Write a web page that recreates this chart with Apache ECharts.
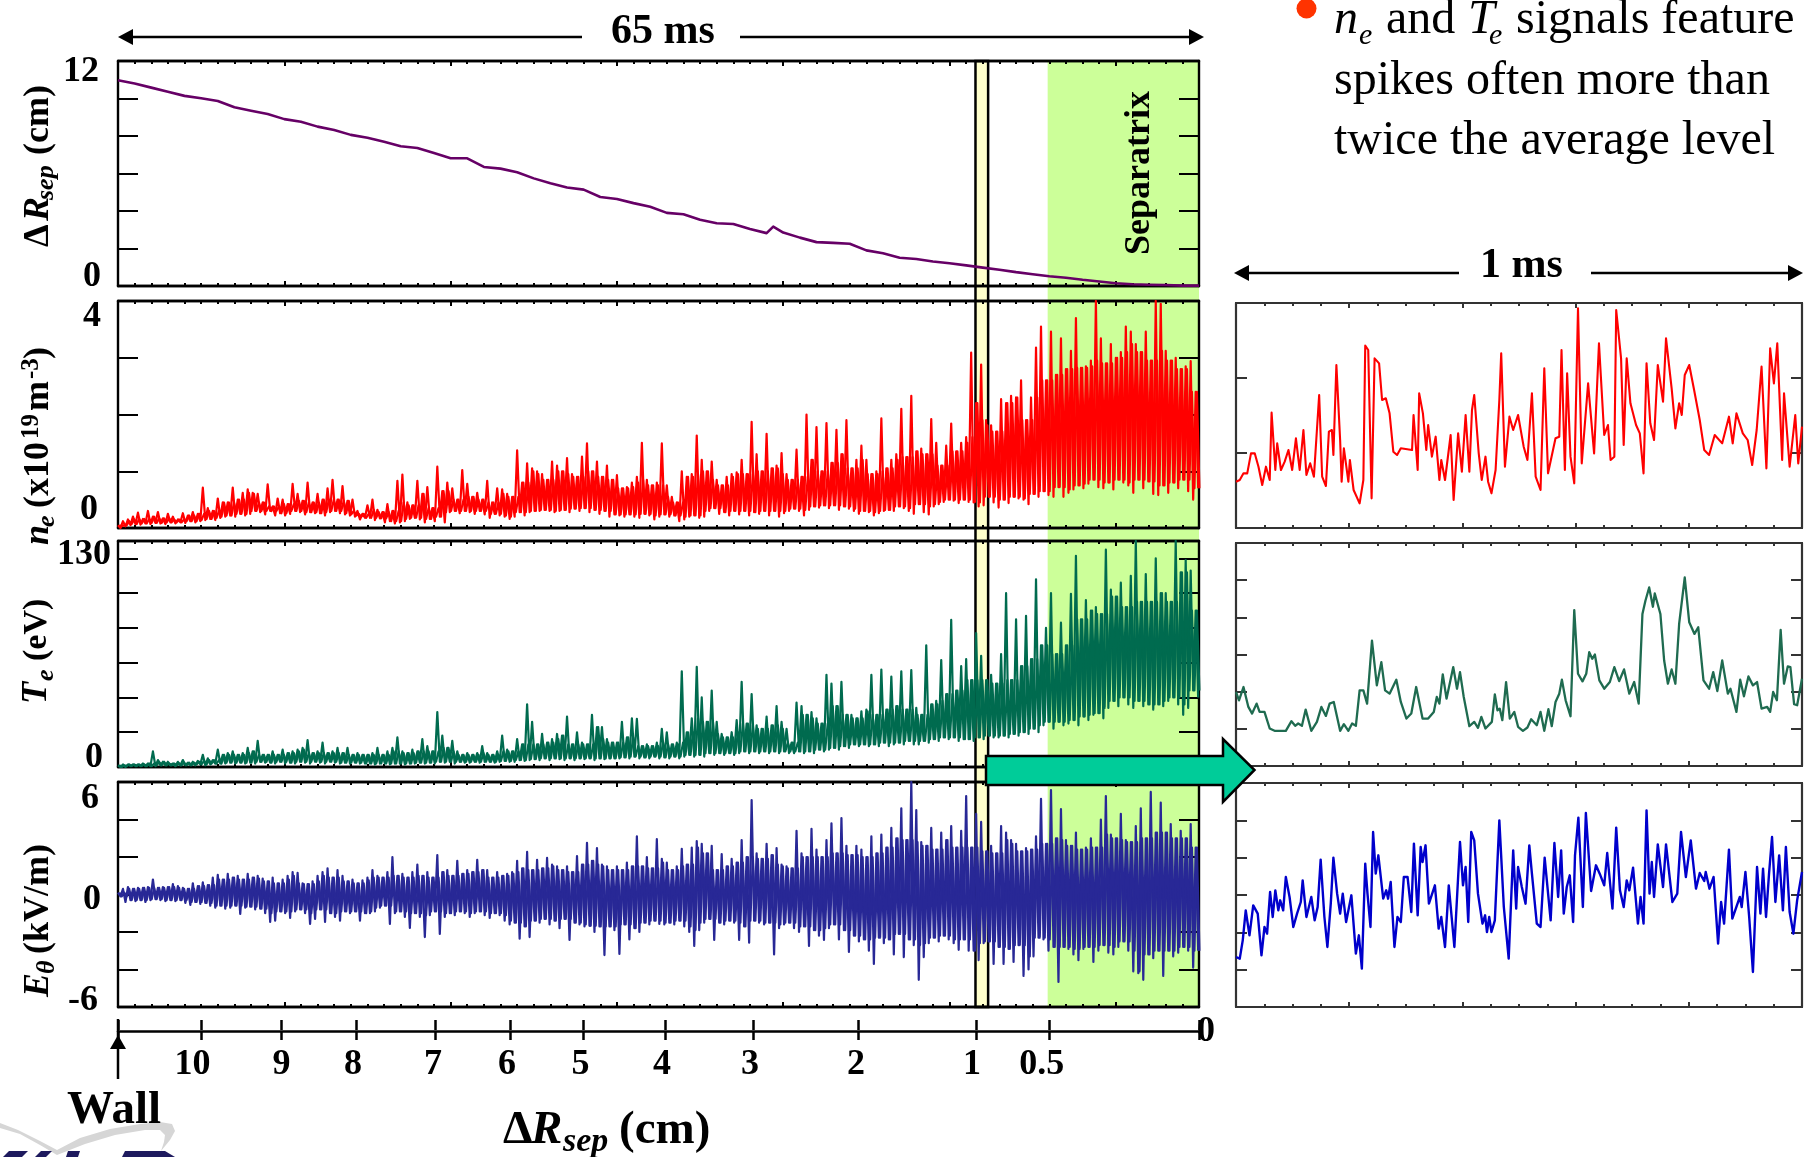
<!DOCTYPE html>
<html><head><meta charset="utf-8"><title>Probe plunge signals</title>
<style>html,body{margin:0;padding:0;background:#fff}#c{width:1809px;height:1157px}</style>
<script src="https://cdn.jsdelivr.net/npm/echarts@6/dist/echarts.min.js"></script></head>
<body><div id="c"></div>
<script>
// ---------- DATA ----------
const colStepMs = 0.3;            // one hi/lo envelope column per 0.3 ms of the 65 ms plunge
const dRsepT = [0,1,2,3,4,5,6,7,8,9,10,11,12,13,14,15,16,17,18,19,20,21,22,23,24,25,26,27,28,29,30,31,32,33,34,35,36,37,38,39,39.4,40,41,42,43,44,45,46,47,48,49,50,51,52,53,54,55,56,57,58,59,60,61,62,63,64,65];
const dRsepV = [10.97,10.8,10.58,10.36,10.14,10.01,9.87,9.53,9.35,9.17,8.9,8.76,8.5,8.32,8.06,7.91,7.69,7.45,7.36,7.09,6.81,6.81,6.35,6.26,6.07,5.74,5.48,5.25,5.14,4.75,4.64,4.42,4.23,3.9,3.83,3.53,3.35,3.31,3.04,2.82,3.17,2.85,2.58,2.34,2.3,2.25,1.9,1.75,1.51,1.44,1.31,1.21,1.1,.98,.87,.74,.63,.52,.44,.33,.24,.15,.09,.07,.05,.02,.02];

const neHi = [.05,.12,.15,.2,.27,.16,.3,.2,.28,.17,
.25,.2,.15,.26,.22,.28,.25,.71,.35,.3,
.52,.45,.45,.71,.5,.62,.68,.62,.6,.45,
.77,.38,.52,.5,.42,.78,.6,.48,.8,.45,
.6,.5,.7,.85,.5,.74,.48,.5,.3,.25,
.4,.5,.32,.28,.42,.3,.83,.94,.45,.4,
.83,.6,.72,.35,1.08,.65,.8,.7,.5,1.02,
.78,.55,.62,.5,.83,.45,.7,.68,.6,.55,
1.37,.8,1.14,1.05,1.0,.95,.85,1.17,1.1,1.0,
1.23,.95,.9,1.26,1.49,1.0,1.17,.9,1.1,.85,
.93,.7,.72,.8,.9,1.5,.85,.75,.8,1.49,
.75,.55,.45,1.0,.9,.95,1.63,1.2,1.0,1.17,
.85,.75,.9,.95,.98,1.2,.95,1.87,1.3,1.0,
1.66,1.05,1.1,1.32,.95,.85,1.38,.9,2.0,1.2,
1.78,1.0,1.85,1.15,1.73,1.3,1.9,1.05,1.2,1.45,
1.2,.95,1.0,1.93,1.05,1.2,1.3,2.1,1.25,2.33,
1.35,1.4,1.3,1.92,1.5,1.1,1.45,1.84,1.35,1.5,
1.6,3.09,2.2,2.88,1.9,1.81,1.7,2.27,2.2,2.33,
2.3,2.6,1.9,2.3,3.18,3.55,2.6,3.46,2.7,3.34,
2.8,3.12,3.7,2.82,2.85,2.95,4.0,3.34,2.9,3.24,
3.0,3.1,3.55,3.46,3.24,3.1,3.46,2.95,4.0,3.95,
3.12,2.95,3.0,2.8,2.85,2.94,2.4];
const neLo = [0,.03,.05,.07,.06,.08,.07,.09,.08,.07,
.1,.08,.1,.09,.12,.1,.12,.14,.16,.14,
.18,.2,.22,.2,.25,.22,.25,.3,.28,.24,
.3,.22,.26,.22,.25,.3,.28,.24,.28,.26,
.26,.22,.28,.3,.26,.24,.22,.2,.15,.18,
.18,.14,.17,.1,.12,.08,.1,.12,.16,.18,
.15,.1,.16,.12,.2,.1,.28,.3,.26,.3,
.28,.25,.3,.24,.18,.25,.22,.2,.16,.2,
.28,.22,.28,.3,.3,.32,.3,.28,.3,.32,
.28,.34,.3,.35,.28,.32,.25,.3,.2,.24,
.22,.2,.24,.2,.18,.25,.22,.15,.2,.24,
.2,.22,.12,.15,.2,.22,.18,.2,.3,.35,
.25,.28,.22,.3,.24,.3,.22,.28,.25,.3,
.22,.3,.2,.26,.3,.34,.3,.22,.32,.38,
.36,.4,.35,.4,.32,.38,.34,.3,.25,.3,
.28,.22,.26,.3,.32,.3,.38,.35,.3,.25,
.42,.28,.24,.38,.42,.46,.5,.48,.44,.5,
.46,.45,.38,.4,.55,.45,.36,.5,.44,.55,
.52,.5,.42,.6,.55,.65,.58,.55,.72,.55,
.62,.68,.75,.7,.78,.85,.72,.7,.8,.68,
.85,.8,.75,.62,.85,.7,.82,.6,.58,.75,
.62,.8,.7,.85,.65,.5,.7];

const teHi = [1,1.5,1.5,1.5,1.5,2,2,9,4,3,
3,2,3,4,2.5,3,3.5,7,5,4,
10,7,8,9,7,8,11,9,15,7,
7,9,7,10,8,9,10,11,15.5,8,
9,14,8,9,11,8,11,7,8,7,
7,8,11,7,9,11,17,9,8,10,
9,16,12,9,31.6,18,11,15,9,7,
8,7,8,12,8,7,9,18,10,9,
16,13,36,26,13,19,14,16,19,18,
29,13,20,14,13,30,23,23,16,14,
14,26,17,28,27.7,12,13,12,14,22,
20,13,14,55,20,28,57.6,40,26,44,
26,19,17,20,27,49,25,42,24,22,
29,24,35,26,22,14,37,35,30,31.6,
28,25,53,48,35,49,30,30,28,32,
33,53,30,56,33,52,35,55,33,55.8,
34,30,70,36,38,61.5,42,84.6,44,58,
62,50,77,64,50,53,48,65,100,50,
85,58,87,62,108,70,80,100,65,83,
70,99.6,121.5,85,96,90,92,88,125,102,
98,106,92,110,130,95,111,95,120,100,
100,95,130,112,119,113,90];
const teLo = [0,0,.5,.5,.5,.5,.5,.5,1,1,
1,.5,1,1,1,1,1.5,1,1.5,2,
2,2,2.5,2,2.5,2,2.5,2,3,2.5,
2.5,2,3,2,2.5,2,3,2.5,2,3,
2.5,2,3,2.5,2,2.5,2,2.5,2,2,
2,1.5,2,2,1.5,2,2,1.5,2,2,
2.5,2,2.5,2,3,2.5,3,2,3,2.5,
2.5,3,2.5,3,3,2.5,3,3.5,3,3,
4,3.5,4,4.5,4,5,4,5,4.5,4,
5,4,5,4.5,5,4,5,4.5,5,5,
5,5.5,5,6,5,5.5,5,6,5,5.5,
5,6,5,6,7,6,7,6,8,7,
8,7,8,7,8,9,8,9,8,9,
8,9,8,9,8,8,9,8,9,8,
10,9,10,11,10,12,11,13,12,13,
12,13,12,14,12,13,14,13,15,13,
13,15,14,16,15,17,16,17,15,16,
16,15,17,16,18,17,17,18,17,19,
18,20,19,22,20,24,26,22,26,24,
25,27,24,29,27,30,31,28,34,38,
35,40,36,34,38,35,36,33,36,35,
38,40,36,30,34,44,40];

const eHi = [.1,.3,.4,.3,.35,.35,.4,.8,.35,.4,
.4,.55,.45,.35,.3,.6,.45,.65,.5,.9,
1.05,.8,1.1,.9,1.0,.8,1.1,.9,1.0,.85,
.7,.9,.6,.8,1.0,1.2,1.15,.6,.55,.7,
1.0,1.2,1.4,.9,1.3,1.0,.7,.8,.6,.75,
.9,1.3,1.0,.9,1.2,2.0,1.0,1.1,.9,1.2,
1.6,1.0,1.2,.9,2.1,1.2,1.3,1.0,1.8,1.1,
1.3,1.2,1.85,1.3,1.3,.9,1.2,1.0,1.1,1.2,
1.8,1.4,2.27,1.3,1.85,1.4,1.95,1.6,1.5,1.3,
1.5,1.2,2.05,1.6,2.76,1.8,2.48,1.6,1.5,1.3,
1.5,1.3,1.7,1.5,3.1,1.5,2.0,1.4,2.95,1.9,
1.7,1.3,1.5,2.44,1.6,2.5,2.85,2.7,2.2,2.6,
1.3,2.16,1.5,1.9,1.7,2.9,2.0,5.04,2.2,1.9,
2.7,2.1,2.48,1.6,1.5,1.4,3.4,2.2,2.0,3.5,
2.4,2.0,2.9,3.8,2.2,4.08,2.6,2.1,2.6,2.4,
2.0,3.1,2.2,3.2,2.5,3.55,3.0,4.6,2.9,6.0,
4.5,2.8,2.6,3.55,2.4,3.3,2.9,3.65,2.5,3.4,
5.25,2.5,4.3,3.87,2.3,2.6,2.2,3.65,3.3,2.9,
2.7,2.3,2.48,2.4,3.1,5.1,2.7,5.57,3.0,4.55,
2.9,2.6,3.3,2.4,2.5,3.0,2.5,4.0,5.25,3.2,
3.0,4.3,2.9,2.8,3.65,4.6,3.0,5.47,3.3,4.9,
3.3,3.76,3.0,3.4,3.0,3.76,2.5];
const eLo = [-.1,-.4,-.3,-.35,-.3,-.4,-.3,-.25,-.3,-.35,
-.3,-.35,-.3,-.45,-.55,-.4,-.5,-.45,-.6,-.7,
-.6,-.75,-.7,-.6,-1.03,-.7,-.65,-.8,-.75,-1.0,
-1.46,-1.4,-.9,-1.0,-1.25,-.9,-.8,-1.0,-1.57,-1.3,
-.8,-1.46,-1.0,-1.2,-1.4,-.9,-1.0,-.9,-1.4,-1.0,
-1.0,-.9,-.7,-.6,-1.57,-1.0,-.9,-1.2,-1.78,-1.0,
-1.2,-2.27,-1.1,-.9,-2.1,-1.2,-1.0,-1.1,-.9,-1.0,
-1.2,-1.0,-.9,-1.1,-1.25,-1.0,-1.1,-1.4,-1.6,-1.5,
-2.36,-1.7,-2.27,-1.4,-1.5,-1.3,-1.6,-1.4,-1.8,-1.3,
-2.42,-1.5,-1.6,-1.7,-1.67,-2.0,-1.7,-3.23,-1.7,-1.9,
-3.17,-1.6,-2.4,-1.8,-2.0,-1.5,-1.6,-1.4,-1.57,-1.6,
-1.5,-1.6,-1.4,-1.7,-2.0,-2.74,-1.9,-1.5,-1.3,-2.42,
-1.5,-1.6,-1.4,-1.5,-2.42,-1.7,-2.57,-1.4,-1.5,-1.6,
-1.5,-3.2,-1.8,-1.6,-1.5,-1.8,-2.0,-1.7,-2.74,-1.9,
-2.2,-2.42,-1.8,-1.6,-2.4,-1.9,-3.06,-2.2,-2.5,-2.4,
-3.0,-3.7,-2.3,-2.6,-2.4,-3.2,-2.1,-3.34,-2.4,-2.7,
-4.55,-3.34,-2.6,-2.3,-2.5,-2.2,-2.4,-2.6,-2.95,-2.4,
-3.0,-3.0,-3.5,-2.6,-2.5,-3.7,-2.8,-3.7,-2.9,-3.6,
-2.7,-4.34,-4.0,-3.3,-2.3,-2.4,-3.0,-2.8,-4.66,-2.8,
-2.9,-3.2,-3.5,-2.9,-2.8,-3.6,-3.0,-2.7,-3.1,-3.2,
-2.8,-2.5,-3.0,-4.1,-4.2,-4.55,-3.2,-3.4,-3.0,-4.34,
-3.0,-3.3,-3.1,-2.8,-3.0,-3.9,-3.0];

// 1 ms close-ups: [sample number out of 1511, reading in arbitrary units]
const zoomSamples = 1511;
const neZoom = [[0,139],[10,144],[20,164],[30,164],[40,224],[50,224],[60,184],[70,129],[80,184],[90,144],[95,346],[105,174],[110,254],[120,174],[130,199],[140,234],[150,174],[160,269],[170,174],[180,294],[188,159],[198,194],[208,154],[216,294],[222,399],[230,154],[240,126],[248,289],[256,294],[260,219],[268,489],[278,264],[282,139],[288,239],[300,139],[304,204],[314,114],[330,74],[340,144],[345,547],[353,534],[362,89],[370,509],[382,494],[390,384],[400,389],[410,344],[420,229],[430,219],[440,239],[470,234],[474,339],[485,174],[489,404],[499,344],[508,234],[513,309],[523,214],[533,274],[543,144],[548,204],[558,144],[573,279],[581,84],[593,284],[603,169],[613,339],[623,169],[630,354],[636,399],[648,224],[656,144],[666,214],[673,139],[682,104],[693,174],[703,384],[708,524],[718,184],[730,334],[740,294],[753,339],[768,244],[778,204],[790,404],[800,154],[813,114],[823,479],[833,164],[853,269],[863,274],[869,534],[878,174],[884,464],[893,214],[903,134],[913,659],[923,194],[940,434],[956,224],[969,554],[983,279],[993,309],[1000,204],[1010,214],[1015,654],[1028,509],[1035,249],[1043,509],[1053,374],[1068,309],[1078,284],[1088,164],[1096,494],[1106,314],[1116,264],[1126,489],[1140,379],[1148,569],[1163,419],[1173,299],[1183,374],[1190,339],[1198,459],[1210,489],[1223,414],[1238,324],[1250,234],[1263,219],[1278,279],[1298,254],[1316,334],[1326,254],[1336,344],[1353,284],[1366,264],[1378,189],[1390,294],[1403,484],[1416,179],[1426,539],[1436,434],[1445,554],[1458,204],[1463,404],[1478,184],[1493,339],[1501,194],[1511,304]];
const teZoom = [[0,223],[8,198],[20,238],[33,178],[43,158],[55,188],[63,163],[76,163],[90,113],[103,106],[133,106],[148,135],[158,121],[166,128],[176,121],[186,170],[201,106],[216,133],[228,178],[240,151],[250,188],[261,193],[278,106],[288,126],[300,106],[310,128],[320,121],[330,228],[340,228],[350,188],[363,378],[376,243],[388,313],[398,228],[410,218],[428,260],[440,193],[455,143],[468,158],[481,238],[498,143],[513,143],[528,163],[536,208],[543,188],[552,276],[562,203],[580,298],[590,233],[598,283],[608,208],[623,120],[636,133],[646,115],[655,148],[666,113],[683,133],[691,216],[698,168],[704,173],[711,138],[721,253],[731,143],[743,163],[753,118],[766,106],[778,116],[788,141],[803,123],[813,163],[823,106],[834,171],[843,120],[853,193],[863,218],[870,260],[880,198],[893,150],[903,470],[913,278],[925,255],[935,278],[943,343],[951,323],[958,336],[970,258],[983,233],[998,253],[1010,298],[1023,256],[1036,291],[1050,218],[1063,253],[1075,188],[1085,458],[1093,498],[1103,538],[1113,480],[1118,520],[1133,458],[1143,318],[1153,248],[1163,291],[1173,248],[1183,428],[1198,568],[1210,433],[1224,398],[1234,418],[1248,258],[1263,233],[1274,283],[1285,226],[1298,318],[1313,218],[1320,233],[1336,163],[1346,260],[1356,210],[1368,270],[1380,243],[1391,253],[1403,173],[1418,178],[1426,163],[1434,223],[1444,198],[1454,410],[1463,248],[1473,300],[1480,298],[1490,186],[1498,183],[1511,263]];
const eZoom = [[0,150],[10,145],[18,200],[26,290],[36,215],[46,305],[58,280],[68,155],[76,240],[83,220],[91,345],[98,270],[105,350],[113,290],[118,320],[126,290],[133,390],[143,330],[153,240],[163,280],[173,315],[178,380],[188,270],[201,330],[210,260],[218,300],[226,442],[236,270],[244,180],[253,310],[260,448],[270,340],[278,280],[285,340],[294,255],[308,335],[320,160],[328,215],[336,115],[345,430],[351,340],[359,240],[366,525],[373,400],[380,455],[393,325],[401,350],[406,325],[413,375],[423,180],[431,270],[440,255],[448,390],[458,390],[468,285],[475,490],[485,275],[493,480],[498,435],[506,485],[515,310],[531,365],[541,235],[548,270],[558,180],[568,365],[583,180],[598,495],[606,365],[613,420],[620,255],[628,525],[636,500],[646,340],[658,250],[665,275],[670,225],[676,270],[682,225],[691,260],[703,560],[715,300],[728,145],[740,470],[748,295],[753,420],[763,360],[773,310],[783,485],[790,400],[803,250],[813,240],[824,448],[840,260],[850,492],[860,330],[868,470],[875,280],[883,360],[891,395],[900,255],[905,455],[914,568],[926,300],[934,582],[948,348],[961,425],[971,400],[983,365],[991,462],[1005,295],[1015,538],[1025,350],[1035,300],[1043,380],[1050,350],[1060,418],[1073,250],[1080,330],[1088,250],[1096,590],[1104,340],[1110,435],[1116,330],[1126,488],[1140,360],[1148,488],[1165,315],[1178,340],[1188,525],[1201,390],[1214,500],[1228,355],[1238,402],[1250,378],[1254,405],[1264,355],[1275,390],[1287,190],[1295,315],[1303,250],[1316,472],[1325,265],[1345,330],[1350,300],[1360,405],[1370,270],[1380,105],[1391,420],[1400,280],[1407,415],[1415,270],[1423,400],[1431,510],[1440,315],[1450,455],[1460,290],[1468,480],[1478,285],[1488,220],[1498,320],[1511,405]];

// lower distance axis: time position of each distance mark
const rTickT  = [0,5.0,9.83,14.3,19.1,23.6,28,32.9,38.2,44.5,51.6,56,65];
const rLabelT = [4.48,9.83,14.13,18.94,23.39,27.81,32.71,38.0,44.38,51.35,55.54];
const rLabels = ['10','9','8','7','6','5','4','3','2','1','0.5'];
const separatrixBand = [55.9,65];
const closeupBand = [51.56,52.32];

// ---------- helpers ----------
const SERIF = '"Liberation Serif","Times New Roman",serif';
const grid=[], xAxis=[], yAxis=[], series=[], graphic=[];
function panel(rect, xr, yr, col, tickLen, lw){
  const g = grid.length;
  grid.push({left:rect[0],top:rect[1],width:rect[2]-rect[0],height:rect[3]-rect[1],containLabel:false});
  const line = {show:true,onZero:false,lineStyle:{color:col,width:lw}};
  const base = {type:'value',gridIndex:g,min:0,max:xr.max,axisLabel:{show:false},splitLine:{show:false},axisLine:line};
  const first = xAxis.length;
  ['bottom','top'].forEach(p=>{
    xAxis.push({...base,position:p,interval:xr.major,axisTick:{show:true,inside:true,length:xr.majorLen,lineStyle:{color:col,width:2}}});
    xAxis.push({...base,position:p,interval:xr.minor,axisTick:{show:true,inside:true,length:xr.minorLen,lineStyle:{color:col,width:2}}});
  });
  const yFirst = yAxis.length;
  ['left','right'].forEach(p=>{
    yAxis.push({type:'value',gridIndex:g,position:p,min:yr[0],max:yr[1],interval:yr[2],axisLabel:{show:false},splitLine:{show:false},axisLine:line,
      axisTick:{show:true,inside:true,length:tickLen,lineStyle:{color:col,width:2}}});
  });
  return {xAxisIndex:first,yAxisIndex:yFirst};
}
function signal(ax,data,color,width){
  series.push({type:'line',...ax,data,showSymbol:false,symbol:'none',animation:false,silent:true,
    lineStyle:{color,width,join:'round'},z:3});
}
function zigzag(hi,lo){
  const out=[];
  hi.forEach((h,i)=>{out.push([i*colStepMs,h]);out.push([(i+.5)*colStepMs,lo[i]]);});
  return out;
}
// second pass through the same readings: the part of the band that neighbouring columns share
function core(hi,lo){
  const out=[];
  hi.forEach((h,i)=>{
    const a=Math.max(i-1,0), b=Math.min(i+1,hi.length-1);
    const top=Math.min(hi[a],h,hi[b]), bot=Math.max(lo[a],lo[i],lo[b]);
    out.push([(i+.25)*colStepMs,top]);out.push([(i+.75)*colStepMs,bot]);
  });
  return out;
}
function dense(ax,hi,lo,color,width){signal(ax,zigzag(hi,lo),color,width);signal(ax,core(hi,lo),color,width);}
function T(str,x,base,size,o={}){
  const off=.24*size, st=(o.italic?'italic ':'')+(o.normal?'':'bold ');
  graphic.push({type:'text',silent:true,z:30,x:o.rot?base-off:x,y:o.rot?x:base-off,rotation:o.rot?Math.PI/2:0,
    style:{text:str,font:st+size+'px '+SERIF,fill:o.fill||'#000',align:o.align||'left',verticalAlign:'middle'}});
}
function L(x1,y1,x2,y2,w=2,c='#000'){graphic.push({type:'line',silent:true,z:30,shape:{x1,y1,x2,y2},style:{stroke:c,lineWidth:w}});}
function P(points,fill,z=30,stroke,lw){graphic.push({type:'polygon',silent:true,z,shape:{points},style:{fill,stroke,lineWidth:lw}});}

// ---------- background bands ----------
grid.push({left:118,top:61,width:1081,height:946});
xAxis.push({type:'value',gridIndex:0,min:0,max:65,show:false});
yAxis.push({type:'value',gridIndex:0,min:0,max:1,show:false});
series.push({type:'line',xAxisIndex:0,yAxisIndex:0,data:[],silent:true,z:-2,animation:false,
  markArea:{silent:true,animation:false,z:-2,data:[
    [{xAxis:separatrixBand[0],yAxis:0,itemStyle:{color:'#CCFF99',opacity:1,borderWidth:0}},{xAxis:separatrixBand[1],yAxis:1}],
    [{xAxis:closeupBand[0],yAxis:0,itemStyle:{color:'#FFFFCC',opacity:1,borderColor:'#000',borderWidth:2.5}},{xAxis:closeupBand[1],yAxis:1}]
  ]}});

// ---------- main panels ----------
const X65={max:65,major:10,minor:1,majorLen:5,minorLen:3};
const X1={max:1,major:.2,minor:.05,majorLen:5,minorLen:3};
const LX=[118,1199], RX=[1236,1802];
let a;
a=panel([LX[0],61,LX[1],286],X65,[0,12,2],'#000',20,2.4); signal(a,dRsepT.map((t,i)=>[t,dRsepV[i]]),'#660066',2.6);
a=panel([LX[0],301,LX[1],528],X65,[0,4,1],'#000',20,2.4); dense(a,neHi,neLo,'#FF0000',2.2);
a=panel([LX[0],541,LX[1],767],X65,[0,130,20],'#000',20,2.4); dense(a,teHi,teLo,'#006B4F',2.2);
a=panel([LX[0],782,LX[1],1007],X65,[-6,6,2],'#000',20,2.4); dense(a,eHi,eLo,'#282896',2.2);
// ---------- close-ups ----------
const toMs=arr=>arr.map(p=>[p[0]/zoomSamples,p[1]]);
a=panel([RX[0],303,RX[1],528],X1,[0,675,225],'#333',11,2.2); signal(a,toMs(neZoom),'#FF0000',2.1);
a=panel([RX[0],543,RX[1],766],X1,[0,672,112],'#333',11,2.2); signal(a,toMs(teZoom),'#1F6B50',2.3);
a=panel([RX[0],783,RX[1],1007],X1,[0,672,112],'#333',11,2.2); signal(a,toMs(eZoom),'#0000CC',2.4);

// ---------- lower distance axis ----------
const gAxis=grid.length;
grid.push({left:118,top:1030,width:1081,height:1});
const labelOf=v=>{let b='',d=1e9;rLabelT.forEach((t,i)=>{const e=Math.abs(t-v);if(e<d){d=e;b=rLabels[i];}});return b;};
xAxis.push({type:'value',gridIndex:gAxis,position:'bottom',min:0,max:65,splitLine:{show:false},
  axisLine:{show:true,onZero:false,lineStyle:{color:'#000',width:2.5}},
  axisTick:{show:true,length:9,customValues:rTickT,lineStyle:{color:'#000',width:2.5}},
  axisLabel:{show:true,customValues:rLabelT,margin:16,color:'#000',fontFamily:SERIF,fontWeight:'bold',fontSize:36,formatter:labelOf}});
xAxis.push({type:'value',gridIndex:gAxis,position:'top',min:0,max:65,splitLine:{show:false},axisLabel:{show:false},
  axisLine:{show:false,onZero:false},
  axisTick:{show:true,length:10,customValues:rTickT,lineStyle:{color:'#000',width:2.5}}});
yAxis.push({type:'value',gridIndex:gAxis,min:0,max:1,show:false});

// ---------- y tick labels ----------
[['12',99,80],['0',101,285],['4',101,325],['0',98,518],['130',111,563],['0',103,766],['6',99,807],['0',101,908],['-6',98,1009]]
  .forEach(d=>T(d[0],d[1],d[2],36,{align:'right'}));
T('0',1197,1040,36);

// ---------- rotated panel titles ----------
const R={rot:true};
T('\u0394',247,47,36,R); T('R',221,47,36,{rot:true,italic:true}); T('sep',200,53,26,{rot:true,italic:true}); T('(cm)',155,47,36,R);
T('n',545,47,36,{rot:true,italic:true}); T('e',527,54,26,{rot:true,italic:true}); T('(x10',508,47,36,R); T('19',439,38,25,R); T('m',411,47,36,R); T('-3',379,38,25,R); T(')',359,47,36,R);
T('T',704,45,36,{rot:true,italic:true}); T('e',681,53,26,{rot:true,italic:true}); T('(eV)',661,45,34,R);
T('E',997,47,36,{rot:true,italic:true}); T('\u03B8',974,54,26,{rot:true,italic:true}); T('(kV/m)',954,47,36,R);
T('Separatrix',255,1148,36,R);

// ---------- time spans, bottom text ----------
function head(x,y,dir,w=15,h=8){P([[x,y],[x-dir*w,y-h],[x-dir*w,y+h]],'#000');}
L(125,37,582,37,2.5); head(118,37,-1); L(740,37,1197,37,2.5); head(1204,37,1);
T('65 ms',611,42,42);
L(1245,273,1459,273,2.5); head(1234,273,-1); L(1591,273,1795,273,2.5); head(1803,273,1);
T('1 ms',1480,276,42);
L(118,1019,118,1079,2.5); P([[118,1035],[110,1049],[126,1049]],'#000');
T('Wall',67,1122,47);
T('\u0394',503,1142,47); T('R',531,1142,47,{italic:true}); T('sep',563,1150,34,{italic:true}); T('(cm)',619,1142,47);

// ---------- bullet text ----------
graphic.push({type:'circle',silent:true,z:30,shape:{cx:1306.5,cy:8.5,r:10},style:{fill:'#FF3300'}});
const NB={normal:true}, NI={normal:true,italic:true};
T('n',1334,32,48,NI); T('e',1359,43,30,NI); T('and',1386,32,48,NB); T('T',1468,32,48,NI); T('e',1489,43,30,NI); T('signals feature',1516,32,48,NB);
T('spikes often more than',1334,93,48,NB);
T('twice the average level',1334,153,48,NB);

// ---------- green arrow ----------
P([[986,756],[1223,756],[1223,739],[1254.5,770],[1223,802],[1223,785],[986,785]],'#00CC99',40,'#000',2.5);

// ---------- logo fragment ----------
P([[0,1123],[18,1130],[40,1141],[57,1150],[80,1138],[110,1129],[140,1124],[160,1122],[172,1124],[175,1131],[170,1140],[161,1151],[164,1142],[165,1135],[160,1130],[145,1130],[115,1135],[85,1144],[57,1155],[40,1145],[20,1134],[0,1128]],'#D6D6D6',1);
[[[3,1157],[9,1151],[28,1151],[22,1157]],[[35,1157],[41,1151],[52,1151],[46,1157]],[[66,1157],[68,1151],[80,1151],[78,1157]],[[122,1157],[125,1151],[165,1151],[175,1157]]]
  .forEach(p=>P(p,'#1E1A5E',1));

const chart=echarts.init(document.getElementById('c'),null,{renderer:'canvas'});
chart.setOption({animation:false,backgroundColor:'#fff',grid,xAxis,yAxis,series,graphic:{elements:graphic}});
</script></body></html>
